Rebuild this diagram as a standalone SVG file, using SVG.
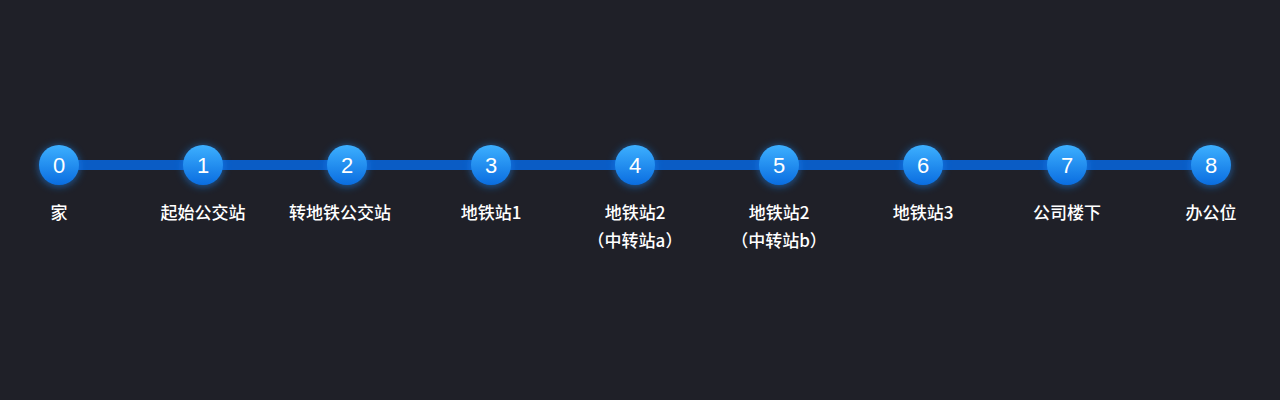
<svg xmlns="http://www.w3.org/2000/svg" width="1280" height="400" viewBox="0 0 1280 400">
<defs>
<linearGradient id="g" x1="0" y1="0" x2="0" y2="1"><stop offset="0" stop-color="#3db0ff"/><stop offset="1" stop-color="#0a6de0"/></linearGradient>
<filter id="glow" x="-50%" y="-50%" width="200%" height="200%"><feGaussianBlur stdDeviation="4"/></filter>
<style>
.n{font-family:"Liberation Sans","Noto Sans CJK SC",sans-serif;font-size:22px;fill:#fff;text-anchor:middle}
.l{font-family:"Noto Sans CJK SC",sans-serif;font-size:17px;font-weight:500;fill:#fff;text-anchor:middle}
</style>
</defs>
<rect width="1280" height="400" fill="#1f2028"/>
<g id="connectors"><rect x="59" y="160" width="1152" height="10" fill="#0a5cc5"/></g>
<g id="n0"><circle cx="59" cy="166" r="20" fill="#1a8cff" opacity="0.6" filter="url(#glow)"/><circle cx="59" cy="165" r="20" fill="url(#g)"/><text class="n" x="59" y="173">0</text><text class="l" x="59" y="219">家</text></g>
<g id="n1"><circle cx="203" cy="166" r="20" fill="#1a8cff" opacity="0.6" filter="url(#glow)"/><circle cx="203" cy="165" r="20" fill="url(#g)"/><text class="n" x="203" y="173">1</text><text class="l" x="203" y="219">起始公交站</text></g>
<g id="n2"><circle cx="347" cy="166" r="20" fill="#1a8cff" opacity="0.6" filter="url(#glow)"/><circle cx="347" cy="165" r="20" fill="url(#g)"/><text class="n" x="347" y="173">2</text><text class="l" x="340" y="219">转地铁公交站</text></g>
<g id="n3"><circle cx="491" cy="166" r="20" fill="#1a8cff" opacity="0.6" filter="url(#glow)"/><circle cx="491" cy="165" r="20" fill="url(#g)"/><text class="n" x="491" y="173">3</text><text class="l" x="491" y="219">地铁站1</text></g>
<g id="n4"><circle cx="635" cy="166" r="20" fill="#1a8cff" opacity="0.6" filter="url(#glow)"/><circle cx="635" cy="165" r="20" fill="url(#g)"/><text class="n" x="635" y="173">4</text><text class="l" x="635" y="219">地铁站2</text><text class="l" x="635" y="247">（中转站a）</text></g>
<g id="n5"><circle cx="779" cy="166" r="20" fill="#1a8cff" opacity="0.6" filter="url(#glow)"/><circle cx="779" cy="165" r="20" fill="url(#g)"/><text class="n" x="779" y="173">5</text><text class="l" x="779" y="219">地铁站2</text><text class="l" x="779" y="247">（中转站b）</text></g>
<g id="n6"><circle cx="923" cy="166" r="20" fill="#1a8cff" opacity="0.6" filter="url(#glow)"/><circle cx="923" cy="165" r="20" fill="url(#g)"/><text class="n" x="923" y="173">6</text><text class="l" x="923" y="219">地铁站3</text></g>
<g id="n7"><circle cx="1067" cy="166" r="20" fill="#1a8cff" opacity="0.6" filter="url(#glow)"/><circle cx="1067" cy="165" r="20" fill="url(#g)"/><text class="n" x="1067" y="173">7</text><text class="l" x="1067" y="219">公司楼下</text></g>
<g id="n8"><circle cx="1211" cy="166" r="20" fill="#1a8cff" opacity="0.6" filter="url(#glow)"/><circle cx="1211" cy="165" r="20" fill="url(#g)"/><text class="n" x="1211" y="173">8</text><text class="l" x="1211" y="219">办公位</text></g>
</svg>
